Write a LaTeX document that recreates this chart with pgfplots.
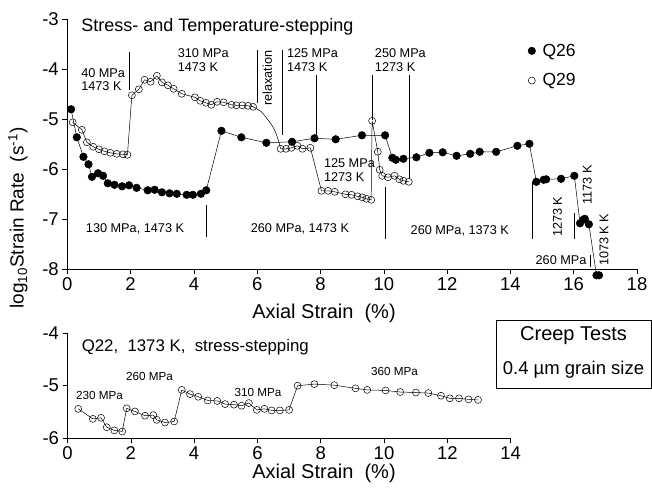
\documentclass[border=0pt]{standalone}
\usepackage{pgfplots}
\pgfplotsset{compat=1.18}
\usepackage{fontspec}
\setmainfont{Liberation Sans}
\newcommand{\fs}[1]{\fontsize{#1}{#1}\selectfont}
\newcommand{\fsl}[1]{\fontsize{#1}{13.5}\selectfont}

\begin{document}
\begin{tikzpicture}
\path[use as bounding box] (0pt,0pt) rectangle (652pt,487pt);

\begin{axis}[
  at={(67.3pt,217.7pt)}, anchor=south west,
  scale only axis, width=569.7pt, height=250pt,
  xmin=0, xmax=18, ymin=-8, ymax=-3,
  axis x line*=bottom, axis y line*=left,
  axis line style={-, line width=0.7pt},
  xtick={0,2,...,18}, xticklabels={0,2,4,6,8,10,12,14,16,18},
  ytick={-8,-7,-6,-5,-4,-3}, yticklabels={-8,-7,-6,-5,-4,-3},
  tick align=outside, major tick length=5pt,
  tick style={black, line width=0.6pt},
  ticklabel style={font=\fs{18.5}},
  clip=false,
  legend style={draw=none, fill=none, at={(axis cs:14.55,-3.45)}, anchor=north west,
     font=\fs{17.5}, row sep=12pt, column sep=5pt, inner sep=0pt, nodes={inner sep=2pt}},
  legend cell align=left,
  legend image code/.code={\draw[mark repeat=2,mark phase=2,#1] plot coordinates {(0cm,0cm) (0.15cm,0cm) (0.3cm,0cm)};},
]
\addlegendimage{only marks, mark=*, mark size=3.8pt, black, mark options={fill=black}}
\addlegendentry{Q26}
\addlegendimage{only marks, mark=o, mark size=3.5pt, black, mark options={fill=white, line width=0.5pt}}
\addlegendentry{Q29}

% Q29 segment 1
\addplot[forget plot, black, line width=0.5pt, mark=o, mark size=3.5pt, mark options={fill=white, line width=0.5pt}] coordinates {
(0.17,-5.06) (0.46,-5.21) (0.62,-5.46) (0.82,-5.55) (1.00,-5.60) (1.17,-5.64) (1.36,-5.67) (1.56,-5.69) (1.76,-5.70) (1.90,-5.71)
(2.04,-4.52) (2.26,-4.40) (2.44,-4.21) (2.63,-4.25) (2.83,-4.13) (2.99,-4.26) (3.18,-4.32) (3.36,-4.39) (3.62,-4.49)
(4.03,-4.56) (4.20,-4.63) (4.38,-4.67) (4.55,-4.71) (4.73,-4.65) (4.94,-4.66) (5.19,-4.71) (5.34,-4.72) (5.53,-4.72) (5.71,-4.73) (5.87,-4.75)
};
% relaxation curve
\addplot[forget plot, black, line width=0.5pt, smooth, no marks] coordinates {
(5.87,-4.75) (6.13,-4.85) (6.34,-5.01) (6.52,-5.18) (6.65,-5.38) (6.74,-5.59)
};
% Q29 segment 2
\addplot[forget plot, black, line width=0.5pt, mark=o, mark size=3.5pt, mark options={fill=white, line width=0.5pt}] coordinates {
(6.74,-5.59) (6.91,-5.59) (7.08,-5.57) (7.27,-5.53) (7.43,-5.59) (7.68,-5.57)
(8.03,-6.43) (8.24,-6.43) (8.45,-6.45) (8.79,-6.50) (8.98,-6.51) (9.17,-6.54) (9.32,-6.56) (9.45,-6.59) (9.60,-6.61)
(9.63,-5.03) (9.81,-5.65) (9.87,-6.01) (9.95,-6.13) (10.13,-6.16) (10.34,-6.13) (10.49,-6.20) (10.62,-6.23) (10.79,-6.25)
};
% Q26
\addplot[forget plot, black, line width=0.5pt, mark=*, mark size=3.8pt, mark options={fill=black}] coordinates {
(0.12,-4.80) (0.30,-5.36) (0.51,-5.75) (0.67,-5.90) (0.78,-6.15) (0.97,-6.08) (1.13,-6.13) (1.28,-6.28) (1.49,-6.31) (1.73,-6.34)
(1.95,-6.32) (2.19,-6.37) (2.54,-6.42) (2.76,-6.41) (2.99,-6.46) (3.23,-6.48) (3.46,-6.49) (3.77,-6.51) (3.97,-6.51) (4.22,-6.49) (4.39,-6.42)
(4.87,-5.23) (5.50,-5.36) (6.29,-5.47) (7.10,-5.45) (7.81,-5.38) (8.48,-5.40) (9.31,-5.32) (10.04,-5.32)
(10.27,-5.77) (10.38,-5.81) (10.62,-5.79) (11.03,-5.76) (11.44,-5.67) (11.86,-5.66) (12.30,-5.73) (12.73,-5.69) (13.03,-5.65) (13.55,-5.65) (14.22,-5.53) (14.60,-5.49)
(14.82,-6.25) (15.05,-6.21) (15.13,-6.20) (15.60,-6.19) (16.02,-6.13)
(16.20,-7.08) (16.30,-7.01) (16.35,-6.99) (16.48,-7.10) (16.72,-8.12) (16.80,-8.12)
};

% vertical guide lines
\draw[black, line width=0.5pt] (axis cs:1.95,-3.65) -- (axis cs:1.95,-4.41);
\draw[black, line width=0.5pt] (axis cs:6.0,-3.62) -- (axis cs:6.0,-4.68);
\draw[black, line width=0.5pt] (axis cs:6.78,-3.62) -- (axis cs:6.78,-5.32);
\draw[black, line width=0.5pt] (axis cs:7.87,-4.11) -- (axis cs:7.87,-5.36);
\draw[black, line width=0.5pt] (axis cs:9.65,-4.11) -- (axis cs:9.65,-5.01);
\draw[black, line width=0.5pt] (axis cs:10.79,-4.11) -- (axis cs:10.79,-6.20);
\draw[black, line width=0.5pt] (axis cs:4.38,-6.72) -- (axis cs:4.38,-7.35);
\draw[black, line width=0.5pt] (axis cs:10.05,-6.35) -- (axis cs:10.05,-7.40);
\draw[black, line width=0.5pt] (axis cs:14.70,-6.25) -- (axis cs:14.70,-7.39);
\draw[black, line width=0.5pt] (axis cs:16.02,-6.88) -- (axis cs:16.02,-7.39);
\draw[black, line width=0.5pt] (axis cs:16.52,-7.71) -- (axis cs:16.52,-7.95);

% annotations
\node[anchor=west, font=\fs{18}] at (axis cs:0.33,-3.15) {Stress- and Temperature-stepping};
\node[anchor=west, align=left, font=\fsl{12.7}] at (axis cs:0.33,-4.21) {40 MPa\\1473 K};
\node[anchor=west, align=left, font=\fsl{12.7}] at (axis cs:3.38,-3.82) {310 MPa\\1473 K};
\node[anchor=west, align=left, font=\fsl{12.7}] at (axis cs:6.83,-3.82) {125 MPa\\1473 K};
\node[anchor=west, align=left, font=\fsl{12.7}] at (axis cs:9.61,-3.82) {250 MPa\\1273 K};
\node[anchor=west, align=left, font=\fontsize{12.7}{14.5}\selectfont] at (axis cs:8.00,-6.02) {125 MPa\\1273 K};
\node[rotate=90, font=\fs{12.7}] at (axis cs:6.32,-4.18) {relaxation};
\node[font=\fs{12.7}] at (axis cs:2.14,-7.19) {130 MPa, 1473 K};
\node[font=\fs{12.7}] at (axis cs:7.35,-7.19) {260 MPa, 1473 K};
\node[font=\fs{12.7}] at (axis cs:12.40,-7.23) {260 MPa, 1373 K};
\node[rotate=90, font=\fs{12.7}] at (axis cs:15.49,-6.95) {1273 K};
\node[rotate=90, font=\fs{12.7}] at (axis cs:16.43,-6.31) {1173 K};
\node[rotate=90, font=\fs{12.7}] at (axis cs:16.96,-7.41) {1073 K K};
\node[font=\fs{12.7}] at (axis cs:15.60,-7.81) {260 MPa};
\end{axis}

\begin{axis}[
  at={(67.5pt,48.7pt)}, anchor=south west,
  scale only axis, width=443.1pt, height=105.2pt,
  xmin=0, xmax=14, ymin=-6, ymax=-4,
  axis x line*=bottom, axis y line*=left,
  axis line style={-, line width=0.7pt},
  xtick={0,2,...,14}, xticklabels={0,2,4,6,8,10,12,14},
  ytick={-6,-5,-4}, yticklabels={-6,-5,-4},
  tick align=outside, major tick length=5pt,
  tick style={black, line width=0.6pt},
  ticklabel style={font=\fs{18.5}},
  clip=false,
]
\addplot[black, line width=0.5pt, mark=o, mark size=3.5pt, mark options={fill=white, line width=0.5pt}] coordinates {
(0.34,-5.44) (0.80,-5.63) (1.06,-5.61) (1.24,-5.79) (1.48,-5.85) (1.73,-5.87)
(1.87,-5.43) (2.13,-5.49) (2.45,-5.57) (2.71,-5.56) (2.82,-5.65) (3.08,-5.70) (3.37,-5.68)
(3.61,-5.08) (3.87,-5.16) (4.13,-5.21) (4.43,-5.28) (4.73,-5.29) (4.98,-5.35) (5.26,-5.36) (5.50,-5.38) (5.73,-5.33) (5.98,-5.46) (6.22,-5.44) (6.45,-5.47) (6.71,-5.47) (7.00,-5.46)
(7.27,-5.00) (7.80,-4.97) (8.43,-4.99) (9.10,-5.05) (9.47,-5.08) (10.05,-5.09) (10.51,-5.12) (11.01,-5.13) (11.40,-5.14) (11.80,-5.19) (12.08,-5.24) (12.37,-5.24) (12.67,-5.26) (12.97,-5.27)
};
\node[anchor=west, font=\fs{16.8}] at (axis cs:0.34,-4.26) {Q22,\ \ 1373 K,\ \ stress-stepping};
\node[anchor=west, font=\fs{11.7}] at (axis cs:0.16,-5.18) {230 MPa};
\node[anchor=west, font=\fs{11.7}] at (axis cs:1.74,-4.83) {260 MPa};
\node[anchor=west, font=\fs{11.7}] at (axis cs:5.17,-5.13) {310 MPa};
\node[anchor=west, font=\fs{11.7}] at (axis cs:9.48,-4.73) {360 MPa};
\end{axis}

% axis labels
\node[rotate=90, font=\fs{19}] at (18pt,269pt) {log\textsubscript{10}Strain Rate\ \ (s\textsuperscript{-1})};
\node[font=\fs{20}] at (324pt,174pt) {Axial Strain\ \ (\%)};
\node[font=\fs{20}] at (324pt,14pt) {Axial Strain\ \ (\%)};

% Creep tests box
\draw[line width=0.6pt] (496pt,167pt) rectangle (651pt,99pt);
\node[font=\fs{20}] at (573.5pt,151pt) {Creep Tests};
\node[font=\fs{18.5}] at (573.5pt,117pt) {0.4 µm grain size};
\end{tikzpicture}
\end{document}
